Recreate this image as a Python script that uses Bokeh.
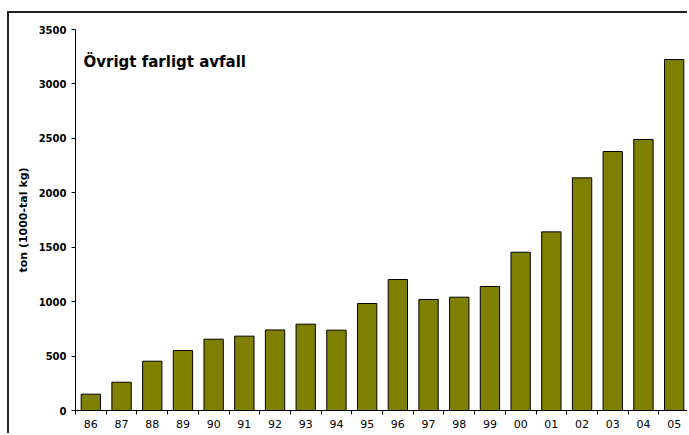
from bokeh.plotting import figure
from bokeh.models import FixedTicker, Label, Range1d
from bokeh.embed import file_html
from bokeh.resources import INLINE

years = ["86", "87", "88", "89", "90", "91", "92", "93", "94", "95",
         "96", "97", "98", "99", "00", "01", "02", "03", "04", "05"]
values = [150, 260, 453, 551, 655, 683, 740, 793, 738, 983,
          1203, 1020, 1041, 1139, 1454, 1641, 2137, 2379, 2490, 3224]
y_ticks = [0, 500, 1000, 1500, 2000, 2500, 3000, 3500]
title_text = "Övrigt farligt avfall"
y_title = "ton (1000-tal kg)"

idx = list(range(len(years)))

p = figure(width=680, height=422,
           x_range=Range1d(-0.5, len(years) - 0.5),
           y_range=Range1d(y_ticks[0], y_ticks[-1]),
           output_backend="svg", toolbar_location=None,
           min_border_left=66, min_border_right=0,
           min_border_top=16, min_border_bottom=25)
p.styles = {"border-top": "2px solid #222", "border-left": "2px solid #222",
            "margin-top": "11px", "margin-left": "7px"}

p.vbar(x=idx, top=values, width=0.63, fill_color="#808000",
       line_color="black", line_width=1)

p.xgrid.visible = False
p.ygrid.visible = False
p.outline_line_color = None
p.background_fill_color = "white"
p.border_fill_color = "white"

# x axis: labels under bars, ticks between bars
xa = p.xaxis[0]
xa.ticker = FixedTicker(ticks=idx, minor_ticks=[i - 0.5 for i in idx] + [len(idx) - 0.5])
xa.major_label_overrides = {i: y for i, y in zip(idx, years)}
xa.major_tick_line_color = None
xa.major_tick_out = 4
xa.major_tick_in = 0
xa.minor_tick_line_color = "black"
xa.minor_tick_out = 4
xa.minor_tick_in = 0
xa.major_label_standoff = 5
xa.major_label_text_font = "DejaVu Sans"
xa.major_label_text_font_size = "11px"
xa.major_label_text_color = "black"
xa.axis_line_color = "black"

ya = p.yaxis[0]
ya.ticker = FixedTicker(ticks=y_ticks)
ya.minor_tick_line_color = None
ya.major_tick_out = 4
ya.major_tick_in = 0
ya.major_tick_line_color = "black"
ya.major_label_standoff = 5
ya.major_label_text_font = "DejaVu Sans"
ya.major_label_text_font_style = "bold"
ya.major_label_text_font_size = "10px"
ya.major_label_text_color = "black"
ya.axis_line_color = "black"
ya.axis_label = y_title
ya.axis_label_text_font = "DejaVu Sans"
ya.axis_label_text_font_style = "bold"
ya.axis_label_text_font_size = "11px"
ya.axis_label_text_color = "black"
ya.axis_label_standoff = 6

title = Label(x=-0.5, y=y_ticks[-1], x_offset=8, y_offset=-32,
              text=title_text, text_font="DejaVu Sans", text_font_style="bold",
              text_font_size="15px", text_color="black", text_baseline="alphabetic")
p.add_layout(title)

open("out.html", "w").write(file_html(p, INLINE))
